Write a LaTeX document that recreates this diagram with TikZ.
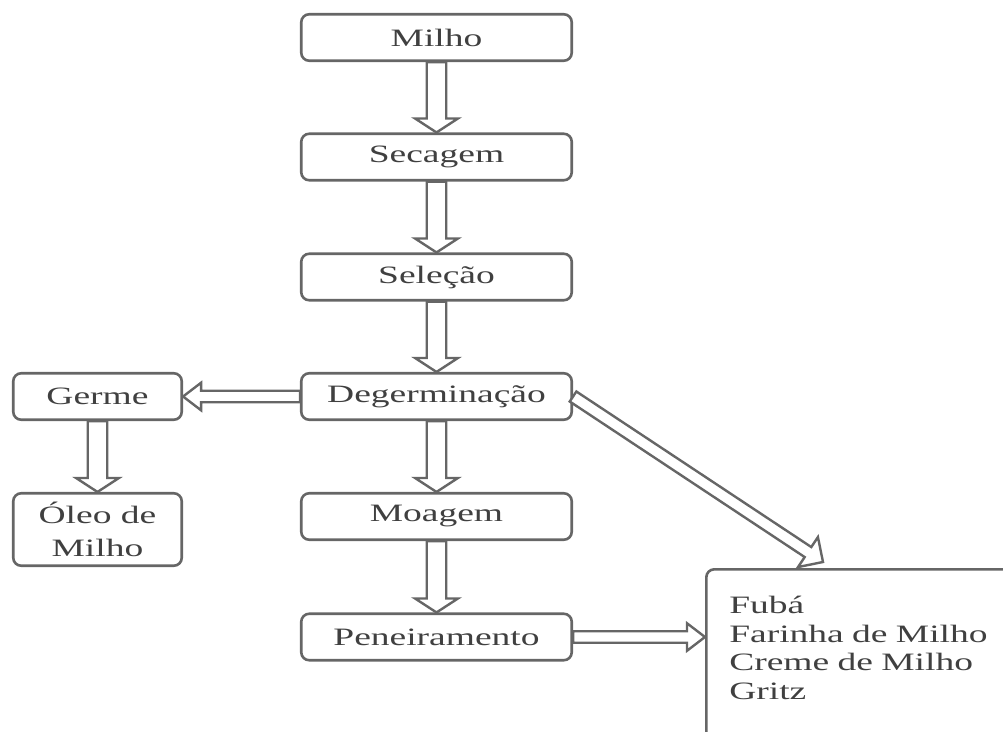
\documentclass[tikz,border=0pt]{standalone}
\usepackage{fontspec}
\setmainfont{Liberation Serif}[FakeStretch=1.5]
\usetikzlibrary{calc}
\definecolor{bcol}{HTML}{666666}
\definecolor{tcol}{HTML}{404040}
\tikzset{
  box/.style={draw=bcol, line width=2.6pt, rounded corners=8pt, fill=white,
    minimum width=270.5pt, minimum height=46.5pt, inner sep=0pt, text=tcol,
    font=\fontsize{25pt}{30pt}\selectfont},
  sbox/.style={box, minimum width=168.5pt},
  arrowbase/.style={draw=bcol, line width=2.4pt, fill=white, line join=miter},
  hollow/.style n args={3}{arrowbase, to path={
    let \p1=(\tikztostart), \p2=(\tikztotarget),
        \n1={veclen(\x2-\x1,\y2-\y1)}, \n2={atan2(\y2-\y1,\x2-\x1)},
        \n3={\n1-#3pt} in
    ([shift={(\p1)},rotate=\n2]0pt,#1pt)
    -- ([shift={(\p1)},rotate=\n2]\n3,#1pt)
    -- ([shift={(\p1)},rotate=\n2]\n3,#2pt)
    -- ([shift={(\p1)},rotate=\n2]\n1,0pt)
    -- ([shift={(\p1)},rotate=\n2]\n3,-#2pt)
    -- ([shift={(\p1)},rotate=\n2]\n3,-#1pt)
    -- ([shift={(\p1)},rotate=\n2]0pt,-#1pt) -- cycle
  }},
  vert/.style={hollow={9.75}{21.5}{14}},
  horz/.style={hollow={5.75}{13.75}{18}},
  diag/.style={hollow={6}{18}{18}},
}
\begin{document}
\begin{tikzpicture}[x=1pt,y=-1pt]
\path[use as bounding box, clip] (0,0) rectangle (1003,731);
\node[box] (milho)   at (436.5,37.5) {Milho};
\node[box] (secagem) at (436.5,157)  {Secagem};
\node[box] (selecao) at (436.5,277)  {Seleção};
\node[box] (degerm)  at (436.5,396.5) {Degerminação};
\node[box] (moagem)  at (436.5,516.5) {Moagem};
\node[box] (peneira) at (436.5,637)  {Peneiramento};
\node[sbox] (germe)  at (97.5,396.5) {Germe};
\node[sbox, minimum height=72.5pt, align=center,
      font=\fontsize{25pt}{33pt}\selectfont] (oleo) at (97.5,529.5) {Óleo de\\Milho};
\node[box, anchor=north west, text width=380pt, align=left,
      inner xsep=23pt, inner ysep=27pt, rounded corners=8pt,
      font=\fontsize{25pt}{28.5pt}\selectfont] (res) at (705,568)
  {Fubá\\Farinha de Milho\\Creme de Milho\\Gritz\rule[-120pt]{0pt}{0pt}};
\coordinate (diagend) at ($(res.north west)+(118,-6)$);
\draw[vert] (milho.south) to (secagem.north);
\draw[vert] (secagem.south) to (selecao.north);
\draw[vert] (selecao.south) to (degerm.north);
\draw[vert] (degerm.south) to (moagem.north);
\draw[vert] (moagem.south) to (peneira.north);
\draw[vert] (germe.south) to (oleo.north);
\draw[horz] (degerm.west) to (germe.east);
\draw[horz] (peneira.east) to (res.north west |- peneira.east);
\draw[diag] (degerm.east) to (diagend);
\end{tikzpicture}
\end{document}
